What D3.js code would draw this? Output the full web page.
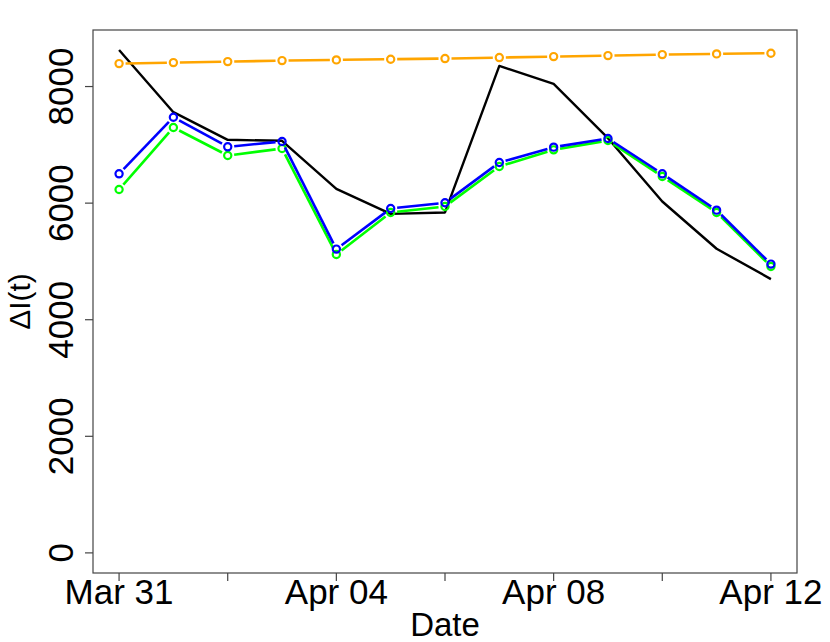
<!DOCTYPE html>
<html>
<head>
<meta charset="utf-8">
<script src="https://cdn.jsdelivr.net/npm/d3@7"></script>
<style>
	body { margin: 0; background: white; }
	text { font-family: "Liberation Sans", Arial, sans-serif; fill: black; }
</style>
</head>
<body>
<div id="chart"></div>
<script>
// Dates, one per day
const dates = [
	"2020-03-31", "2020-04-01", "2020-04-02", "2020-04-03", "2020-04-04",
	"2020-04-05", "2020-04-06", "2020-04-07", "2020-04-08", "2020-04-09",
	"2020-04-10", "2020-04-11", "2020-04-12",
]

// Observed daily increments (black line)
const observed = [8628, 7560, 7086, 7069, 6246, 5815, 5840, 8354, 8046, 7114, 6028, 5217, 4697]
// Model fits
const fitBlue = [6503, 7474, 6966, 7057, 5211, 5908, 6006, 6697, 6960, 7109, 6503, 5880, 4954]
const fitGreen = [6234, 7297, 6817, 6937, 5120, 5840, 5943, 6629, 6914, 7074, 6457, 5840, 4914]
const fitOrange = [8394, 8411, 8428, 8445, 8457, 8469, 8480, 8497, 8514, 8531, 8548, 8560, 8572]

const yTicks = [0, 2000, 4000, 6000, 8000]
const xTickDates = ["2020-03-31", "2020-04-02", "2020-04-04", "2020-04-06", "2020-04-08", "2020-04-10", "2020-04-12"]
const xLabelDates = ["2020-03-31", "2020-04-04", "2020-04-08", "2020-04-12"]

const width = 830
const height = 642
const plot = { left: 93, right: 797, top: 30, bottom: 573 }

const parse = d3.utcParse("%Y-%m-%d")
const fmt = d3.utcFormat("%b %d")

const svg = d3
	.select("#chart")
	.append("svg")
	.attr("width", width)
	.attr("height", height)

// R style 4% padding on both axes
const xData = d3.extent(dates, parse)
const xPad = (xData[1] - xData[0]) * 0.04
const xScale = d3
	.scaleUtc()
	.domain([new Date(+xData[0] - xPad), new Date(+xData[1] + xPad)])
	.range([plot.left, plot.right])

const yData = [0, 8625]
const yPad = (yData[1] - yData[0]) * 0.04
const yScale = d3
	.scaleLinear()
	.domain([yData[0] - yPad, yData[1] + yPad])
	.range([plot.bottom, plot.top])

// Box
svg.append("rect")
	.attr("x", plot.left)
	.attr("y", plot.top)
	.attr("width", plot.right - plot.left)
	.attr("height", plot.bottom - plot.top)
	.attr("fill", "none")
	.attr("stroke", "#444")
	.attr("stroke-width", 1.2)

// X axis ticks
svg.selectAll(".x-tick")
	.data(xTickDates.map(parse))
	.enter()
	.append("line")
	.attr("class", "x-tick")
	.attr("x1", (d) => xScale(d))
	.attr("x2", (d) => xScale(d))
	.attr("y1", plot.bottom)
	.attr("y2", plot.bottom + 8)
	.attr("stroke", "#444")
	.attr("stroke-width", 1.2)

svg.selectAll(".x-label")
	.data(xLabelDates.map(parse))
	.enter()
	.append("text")
	.attr("class", "x-label")
	.attr("x", (d) => xScale(d))
	.attr("y", 604)
	.attr("text-anchor", "middle")
	.style("font-size", "35px")
	.text((d) => fmt(d))

// Y axis ticks, labels rotated like R's las=0
svg.selectAll(".y-tick")
	.data(yTicks)
	.enter()
	.append("line")
	.attr("class", "y-tick")
	.attr("x1", plot.left - 8)
	.attr("x2", plot.left)
	.attr("y1", (d) => yScale(d))
	.attr("y2", (d) => yScale(d))
	.attr("stroke", "#444")
	.attr("stroke-width", 1.2)

svg.selectAll(".y-label")
	.data(yTicks)
	.enter()
	.append("text")
	.attr("class", "y-label")
	.attr("transform", (d) => `translate(73,${yScale(d)}) rotate(-90)`)
	.attr("text-anchor", "middle")
	.style("font-size", "35px")
	.text((d) => d)

// Axis titles
svg.append("text")
	.attr("x", (plot.left + plot.right) / 2)
	.attr("y", 636)
	.attr("text-anchor", "middle")
	.style("font-size", "33px")
	.text("Date")

svg.append("text")
	.attr("transform", `translate(30,${(plot.top + plot.bottom) / 2}) rotate(-90)`)
	.attr("text-anchor", "middle")
	.style("font-size", "30px")
	.text("ΔI(t)")

// Observed line
const line = d3
	.line()
	.x((d) => xScale(d.date))
	.y((d) => yScale(d.value))

const toPoints = (values) =>
	values.map((v, i) => ({ date: parse(dates[i]), value: v }))

svg.append("path")
	.datum(toPoints(observed))
	.attr("fill", "none")
	.attr("stroke", "black")
	.attr("stroke-width", 2.4)
	.attr("stroke-linejoin", "round")
	.attr("d", line)

// type = "b" series: segments with a gap around each point
const gap = 6.5
const drawSeries = (values, color) => {
	const pts = toPoints(values).map((d) => [xScale(d.date), yScale(d.value)])
	const segs = d3.pairs(pts).map(([a, b]) => {
		const dx = b[0] - a[0]
		const dy = b[1] - a[1]
		const len = Math.hypot(dx, dy)
		const ux = dx / len
		const uy = dy / len
		return [a[0] + ux * gap, a[1] + uy * gap, b[0] - ux * gap, b[1] - uy * gap]
	})

	const g = svg.append("g")

	g.selectAll("line")
		.data(segs)
		.enter()
		.append("line")
		.attr("x1", (d) => d[0])
		.attr("y1", (d) => d[1])
		.attr("x2", (d) => d[2])
		.attr("y2", (d) => d[3])
		.attr("stroke", color)
		.attr("stroke-width", 2.6)

	g.selectAll("circle")
		.data(pts)
		.enter()
		.append("circle")
		.attr("cx", (d) => d[0])
		.attr("cy", (d) => d[1])
		.attr("r", 3.6)
		.attr("fill", "none")
		.attr("stroke", color)
		.attr("stroke-width", 2.2)
}

drawSeries(fitGreen, "#00ff00")
drawSeries(fitBlue, "#0000ff")
drawSeries(fitOrange, "#ffa500")
</script>
</body>
</html>
